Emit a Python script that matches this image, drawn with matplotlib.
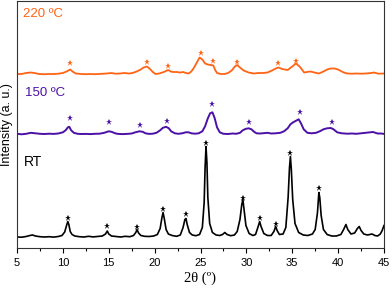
import numpy as np
import matplotlib
matplotlib.use('Agg')
import matplotlib.pyplot as plt
from matplotlib.ticker import MultipleLocator

plt.rcParams['font.family'] = ['Liberation Sans', 'DejaVu Sans']

# RT pattern (2theta, intensity above baseline)
rt_theta = [5.0, 5.5, 6.0, 6.4, 6.7, 7.0, 7.5, 8.0, 8.5, 9.0, 9.5, 9.9, 10.2, 10.4, 10.54, 10.65, 10.8, 11.0, 11.3,
            11.8, 12.3, 12.8, 13.3, 13.8, 14.3, 14.65, 14.84, 15.0, 15.3, 15.8, 16.3, 16.8, 17.3, 17.7, 17.95,
            18.08, 18.25, 18.5, 18.9, 19.4, 19.9, 20.3, 20.6, 20.8, 20.92, 21.05, 21.25, 21.5, 21.9, 22.4, 22.8,
            23.1, 23.3, 23.42, 23.55, 23.8, 24.1, 24.5, 24.9, 25.2, 25.4, 25.5, 25.6, 25.7, 25.8, 26.0, 26.3,
            26.7, 27.1, 27.4, 27.65, 27.9, 28.3, 28.7, 29.0, 29.3, 29.5, 29.62, 29.75, 29.95, 30.3, 30.7, 31.0,
            31.25, 31.45, 31.6, 31.9, 32.3, 32.7, 33.0, 33.2, 33.35, 33.6, 34.0, 34.3, 34.55, 34.7, 34.8, 34.9,
            35.05, 35.3, 35.7, 36.2, 36.7, 37.2, 37.5, 37.75, 37.9, 38.0, 38.15, 38.4, 38.8, 39.3, 39.8, 40.3,
            40.6, 40.85, 41.05, 41.4, 41.8, 42.1, 42.3, 42.5, 42.8, 43.2, 43.7, 44.0, 44.3, 44.6, 44.8, 45.0]
rt_int = [0.5, 0.3, 1.0, 2.0, 2.5, 1.5, 0.8, 0.5, 0.8, 0.4, 1.0, 2.0, 5.5, 12, 16, 13, 6, 3, 1.5,
          0.8, 0.5, 1.2, 0.6, 1.0, 1.5, 3.5, 6.5, 3.5, 1.5, 1.0, 0.5, 1.2, 0.8, 2, 5,
          8, 4.5, 2, 1.2, 1.0, 1.5, 3, 9, 20, 25, 19, 8, 3.5, 2, 1.2, 2.5,
          10, 18, 19, 13, 5, 2.5, 1.8, 3, 10, 35, 70, 91, 75, 40, 14, 5,
          2.5, 2, 3, 5, 3, 1.8, 2.5, 6, 18, 33, 38, 28, 12, 4, 2, 3,
          10, 16, 11, 4, 2, 2, 6, 11, 7, 3, 3.5, 10, 40, 70, 81, 68,
          38, 14, 5, 2.5, 2, 3.5, 8, 25, 45, 40, 22, 8, 3, 1.5, 1.5, 3,
          8, 13, 8, 3.5, 4.5, 9, 11, 7, 3.5, 2.5, 3.5, 2, 1.5, 3.5, 7, 12]

# 150 C pattern
t150_theta = [5.0, 5.5, 6.0, 6.5, 7.0, 7.5, 8.0, 8.5, 9.0, 9.5, 10.0, 10.3, 10.55, 10.7, 10.9, 11.2, 11.6, 12.0,
              12.5, 13.0, 13.5, 14.0, 14.5, 15.0, 15.3, 15.7, 16.0, 16.5, 17.0, 17.5, 17.9, 18.35, 18.7, 19.0,
              19.4, 19.8, 20.2, 20.6, 20.9, 21.25, 21.55, 21.8, 22.2, 22.6, 23.0, 23.4, 23.7, 24.0, 24.4, 24.8,
              25.2, 25.5, 25.8, 26.05, 26.3, 26.55, 26.8, 27.1, 27.5, 28.0, 28.5, 28.9, 29.3, 29.6, 29.95, 30.25,
              30.55, 30.85, 31.1, 31.5, 32.0, 32.3, 32.7, 33.2, 33.7, 34.1, 34.5, 34.8, 35.1, 35.4, 35.7, 35.95,
              36.25, 36.65, 37.1, 37.6, 38.0, 38.4, 38.8, 39.2, 39.5, 39.9, 40.4, 41.0, 41.5, 42.0, 42.5, 43.0,
              43.5, 43.8, 44.3, 44.7, 45.0]
t150_int = [0.5, 0.0, 0.5, 1.5, 1.0, 0.5, 0.3, 0.6, 0.4, 0.8, 2, 4, 7, 7.5, 4, 1.5, 0.5, 0.3,
            0.4, 0.2, 0.5, 0.6, 1.5, 3, 2.5, 1, 0.4, 0.2, 0.4, 0.8, 2, 3, 2.5, 1,
            0.4, 0.6, 1.5, 4, 6.5, 7.5, 6, 3, 1, 0.5, 1, 2, 2, 1, 0.6, 1,
            3, 8, 16, 21, 22, 16, 7, 2, 0.5, 0.3, 0.8, 0.5, 1.5, 4, 5.5, 6,
            5, 2.5, 1, 0.8, 1.2, 1.5, 0.8, 1, 1.5, 3, 6, 10, 12, 13.5, 15, 11,
            5, 1.5, 1, 1.5, 3, 5, 6, 6.3, 5, 2, 1, 0.6, 0.8, 0.5, 1, 1.5,
            2, 2.3, 0.8, 0.8, 0.4]

# 220 C pattern
t220_theta = [5.0, 5.5, 6.0, 6.5, 6.9, 7.4, 8.0, 8.5, 9.0, 9.5, 10.0, 10.4, 10.8, 11.05, 11.4, 12.0, 12.5, 13.0,
              13.5, 14.0, 14.5, 15.0, 15.3, 15.7, 16.2, 16.7, 17.2, 17.6, 17.9, 18.4, 18.8, 19.15, 19.5, 19.8,
              20.1, 20.5, 21.0, 21.47, 21.75, 22.0, 22.4, 22.8, 23.1, 23.4, 23.7, 24.0, 24.3, 24.6, 24.9, 25.2,
              25.5, 25.8, 26.1, 26.4, 26.6, 26.8, 27.2, 27.6, 28.0, 28.4, 28.75, 29.0, 29.3, 29.7, 30.25, 30.8,
              31.3, 31.8, 32.3, 32.8, 33.2, 33.5, 33.9, 34.5, 35.0, 35.4, 35.8, 36.3, 36.6, 37.0, 37.4, 37.9,
              38.4, 38.8, 39.2, 39.6, 40.0, 40.6, 41.0, 41.5, 42.0, 42.5, 43.0, 43.6, 43.9, 44.4, 45.0]
t220_int = [0.5, 0.5, 1.5, 2, 1.5, 0.5, 0.3, 0.5, 0.5, 0.8, 1.5, 3, 5, 3, 1, 0.5, 0.3, 0.5,
            0.3, 0.6, 0.8, 1.2, 1.5, 0.8, 1, 1.5, 1, 1.5, 2.5, 4.5, 7, 8, 5.5, 2.5,
            0.5, 1, 2.5, 4.5, 3, 2.5, 2.5, 2, 2.5, 1.5, 1, 3, 7, 12, 17, 15,
            11, 10, 9.5, 9, 4.5, 1.5, 0.5, 0.5, 1.5, 4, 8, 9.5, 7, 4, 2, 1,
            1.5, 1.5, 2, 4, 6, 7, 5.5, 4.5, 8, 11, 8, 2, 2.5, 3, 2, 1,
            3, 5, 6, 6, 5, 2, 1, 0.8, 1, 0.8, 1, 1.5, 2, 0.8, 1]

# marked reflections (2theta, height in plot units)
rt_star_theta = [10.54, 14.84, 18.08, 20.92, 23.4, 25.6, 29.63, 31.45, 33.2, 34.8, 37.95]
rt_star_y = [30, 22, 21, 39, 34, 105, 50, 30, 24, 95, 60]
t150_star_theta = [10.83, 15.05, 18.37, 21.3, 26.2, 30.28, 35.8, 39.3]
t150_star_y = [130, 126, 123, 127, 144, 126, 136, 126]
t220_star_theta = [10.8, 19.2, 21.5, 25.0, 26.4, 29.0, 33.5, 35.4]
t220_star_y = [185, 186, 182, 195, 187, 186, 185, 187]

rt_offset = 10.5
t150_offset = 113.7
t220_offset = 173.5

c_rt = 'black'
c_150 = '#4b10a6'
c_220 = '#ff6414'

fig = plt.figure(figsize=(3.92, 2.91), dpi=100)
ax = fig.add_axes([17 / 392, 43 / 291, 367 / 392, 247 / 291])

ax.plot(rt_theta, np.array(rt_int) + rt_offset, color=c_rt, lw=1.2)
ax.plot(t150_theta, np.array(t150_int) + t150_offset, color=c_150, lw=1.4)
ax.plot(t220_theta, np.array(t220_int) + t220_offset, color=c_220, lw=1.3)

ax.plot(rt_star_theta, rt_star_y, ls='none', marker='*', ms=4.5, color=c_rt, mew=0)
ax.plot(t150_star_theta, t150_star_y, ls='none', marker='*', ms=4.5, color=c_150, mew=0)
ax.plot(t220_star_theta, t220_star_y, ls='none', marker='*', ms=4.5, color=c_220, mew=0)

ax.text(5.65, 234, '220 ºC', color=c_220, fontsize=9.5, ha='left', va='center')
ax.text(5.85, 154.5, '150 ºC', color=c_150, fontsize=9.5, ha='left', va='center')
ax.text(5.75, 86, 'RT', color=c_rt, fontsize=10, ha='left', va='center')

ax.set_xlim(5, 45)
ax.set_ylim(0, 247)
ax.set_yticks([])
ax.xaxis.set_major_locator(MultipleLocator(5))
ax.xaxis.set_minor_locator(MultipleLocator(2.5))
ax.tick_params(axis='x', which='major', direction='out', length=3.5, width=0.8, labelsize=8, pad=3.5)
ax.tick_params(axis='x', which='minor', direction='out', length=2, width=0.8)
for s in ax.spines.values():
    s.set_linewidth(0.8)
    s.set_color('#333333')

ax.set_xlabel('2θ (º)', fontsize=10.5, labelpad=3, family=['Liberation Serif', 'DejaVu Serif'])
ax.set_ylabel('Intensity (a. u.)', fontsize=9, labelpad=3)

fig.savefig('out.png', dpi=100)
